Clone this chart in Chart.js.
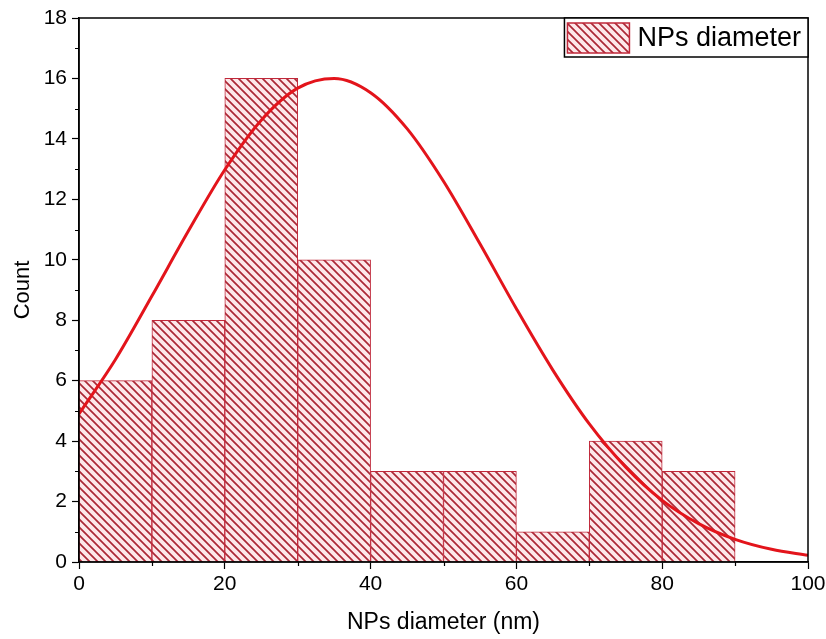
<!DOCTYPE html>
<html><head><meta charset="utf-8">
<script src="https://cdn.jsdelivr.net/npm/chart.js@4.4.1/dist/chart.umd.min.js"></script>
<style>html,body{margin:0;padding:0;background:#fff}#wrap{width:826px;height:639px}</style>
</head><body><div id="wrap"><canvas id="c" width="826" height="639"></canvas></div>
<script>
// Histogram bins (nm) and counts
const binCenters = [5, 15, 25, 35, 45, 55, 65, 75, 85];
const counts = [6, 8, 16, 10, 3, 3, 1, 4, 3];
// Fitted distribution curve
const fitX = [0, 5, 10, 15, 20, 25, 30, 35, 40, 45, 50, 55, 60, 65, 70, 75, 80, 85, 90, 95, 100];
const fitY = [4.9, 6.7, 8.8, 10.95, 12.98, 14.62, 15.68, 16.0, 15.53, 14.34, 12.6, 10.53, 8.38, 6.35, 4.57, 3.14, 2.04, 1.27, 0.75, 0.42, 0.22];
const xMinor = [10, 30, 50, 70, 90];
const yMinor = [1, 3, 5, 7, 9, 11, 13, 15, 17];
const seriesLabel = 'NPs diameter';
const xTitle = 'NPs diameter (nm)';
const yTitle = 'Count';

const FONT = '"Liberation Sans", Arial, sans-serif';
const canvas = document.getElementById('c');
const ctx = canvas.getContext('2d');

function hatch() {
  const s = 8;
  const c = document.createElement('canvas');
  c.width = s; c.height = s;
  const g = c.getContext('2d');
  g.fillStyle = '#fde8ea';
  g.fillRect(0, 0, s, s);
  g.strokeStyle = '#ab2836';
  g.lineWidth = 1.7;
  g.beginPath();
  g.moveTo(0, 0); g.lineTo(s, s);
  g.moveTo(-1, s - 1); g.lineTo(1, s + 1);
  g.moveTo(s - 1, -1); g.lineTo(s + 1, 1);
  g.stroke();
  return ctx.createPattern(c, 'repeat');
}
const pattern = hatch();

const framePlugin = {
  id: 'frame',
  afterDraw(chart) {
    const {ctx, chartArea: a, scales} = chart;
    ctx.save();
    ctx.strokeStyle = '#000';
    ctx.lineWidth = 1.5;
    ctx.strokeRect(a.left, a.top, a.right - a.left, a.bottom - a.top);
    ctx.lineWidth = 1.2;
    ctx.beginPath();
    yMinor.forEach(v => {
      const y = Math.round(scales.y.getPixelForValue(v)) + 0.5;
      ctx.moveTo(a.left - 4, y); ctx.lineTo(a.left, y);
    });
    xMinor.forEach(v => {
      const x = Math.round(scales.x.getPixelForValue(v)) + 0.5;
      ctx.moveTo(x, a.bottom); ctx.lineTo(x, a.bottom + 4);
    });
    ctx.stroke();

    // legend (inside plot area, top-right)
    const ds = chart.data.datasets[0];
    const fs = 27;
    ctx.font = fs + 'px ' + FONT;
    const tw = ctx.measureText(ds.label).width;
    const boxW = 62, boxH = 30, pad = 3, gap = 8;
    const w = pad + boxW + gap + tw + 7;
    const h = 39;
    const lx = a.right - w, ly = a.top;
    ctx.fillStyle = '#fff';
    ctx.fillRect(lx, ly, w, h);
    ctx.fillStyle = ds.backgroundColor;
    ctx.fillRect(lx + pad, ly + 5, boxW, boxH);
    ctx.strokeStyle = ds.borderColor;
    ctx.lineWidth = 1.5;
    ctx.strokeRect(lx + pad, ly + 5, boxW, boxH);
    ctx.fillStyle = '#000';
    ctx.textBaseline = 'middle';
    ctx.textAlign = 'left';
    ctx.fillText(ds.label, lx + pad + boxW + gap, ly + h / 2 + 1);
    ctx.strokeStyle = '#000';
    ctx.lineWidth = 1.5;
    ctx.strokeRect(lx, ly, w, h);
    ctx.restore();
  }
};

new Chart(canvas, {
  type: 'bar',
  data: {
    datasets: [
      {
        type: 'bar',
        label: seriesLabel,
        data: binCenters.map((x, i) => ({x: x, y: counts[i]})),
        backgroundColor: pattern,
        borderColor: '#c0283a',
        borderWidth: 1,
        barPercentage: 1,
        categoryPercentage: 1,
        grouped: false,
        order: 2
      },
      {
        type: 'line',
        label: 'fit',
        data: fitX.map((x, i) => ({x: x, y: fitY[i]})),
        borderColor: '#e3141b',
        borderWidth: 3,
        pointRadius: 0,
        cubicInterpolationMode: 'monotone',
        fill: false,
        order: 1
      }
    ]
  },
  options: {
    responsive: false,
    animation: false,
    devicePixelRatio: 1,
    layout: {padding: {top: 18, right: 18, left: 0, bottom: 0}},
    plugins: {
      legend: {display: false},
      tooltip: {enabled: false}
    },
    scales: {
      x: {
        type: 'linear',
        offset: false,
        min: 0, max: 100,
        ticks: {stepSize: 20, color: '#000', font: {family: FONT, size: 21}, padding: 3},
        grid: {display: true, offset: false, drawOnChartArea: false, drawTicks: true, tickLength: 7, tickColor: '#000', tickWidth: 1.2},
        border: {display: true, color: '#000', width: 1.5},
        title: {display: true, text: xTitle, color: '#000', font: {family: FONT, size: 23}, padding: {top: 4, bottom: 3}},
        afterFit: s => { s.height = 77; s.paddingRight = 0; s.paddingLeft = 0; }
      },
      y: {
        min: 0, max: 18,
        ticks: {stepSize: 2, color: '#000', font: {family: FONT, size: 21}, padding: 5},
        grid: {display: true, drawOnChartArea: false, drawTicks: true, tickLength: 7, tickColor: '#000', tickWidth: 1.2},
        border: {display: true, color: '#000', width: 1.5},
        title: {display: true, text: yTitle, color: '#000', font: {family: FONT, size: 22}, padding: {top: 10, bottom: 0}},
        afterFit: s => { s.width = 79; s.paddingTop = 0; s.paddingBottom = 0; }
      }
    }
  },
  plugins: [framePlugin]
});
</script>
</body></html>
